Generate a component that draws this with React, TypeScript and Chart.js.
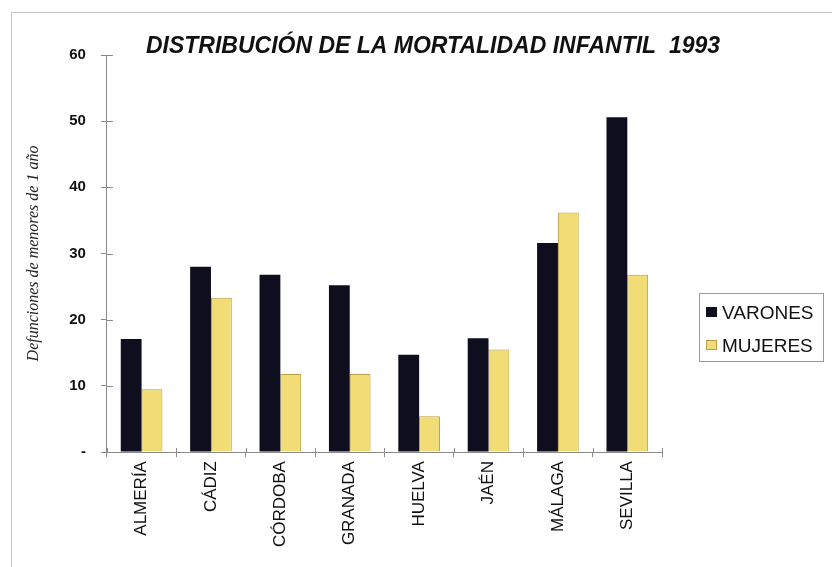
import React, { useEffect, useRef } from 'react';
import { Chart, registerables } from 'chart.js';
Chart.register(...registerables);

const categories = ['ALMERÍA', 'CÁDIZ', 'CÓRDOBA', 'GRANADA', 'HUELVA', 'JAÉN', 'MÁLAGA', 'SEVILLA'];
const varones = [17.1, 28.0, 26.8, 25.2, 14.7, 17.2, 31.6, 50.6];
const mujeres = [9.5, 23.3, 11.8, 11.8, 5.4, 15.5, 36.2, 26.8];
const seriesLabels = ['VARONES', 'MUJERES'];
const chartTitle = 'DISTRIBUCIÓN DE LA MORTALIDAD INFANTIL  1993';
const yAxisTitle = 'Defunciones de menores de 1 año';
const yMin = 0;
const yMax = 60;
const yStep = 10;

const SANS = '"Liberation Sans", Arial, sans-serif';
const SERIF = '"Liberation Serif", "Times New Roman", serif';
const AXIS_COLOR = '#8a8a8a';

const titlePlugin = {
  id: 'customTitle',
  afterDraw(chart: any) {
    const ctx = chart.ctx;
    ctx.save();
    ctx.font = `italic bold 23px ${SANS}`;
    ctx.fillStyle = '#111';
    ctx.textAlign = 'center';
    ctx.textBaseline = 'alphabetic';
    ctx.fillText(chartTitle, 433, 53);
    ctx.restore();
  },
};

const innerTicksPlugin = {
  id: 'innerTicks',
  afterDraw(chart: any) {
    const ctx = chart.ctx;
    const { left, bottom } = chart.chartArea;
    const ys = chart.scales.y;
    const xs = chart.scales.x;
    ctx.save();
    ctx.strokeStyle = AXIS_COLOR;
    ctx.lineWidth = 1;
    ctx.beginPath();
    ys.ticks.forEach((t: any) => {
      const py = Math.round(ys.getPixelForValue(t.value)) + 0.5;
      ctx.moveTo(left, py);
      ctx.lineTo(left + 6, py);
    });
    for (let i = 0; i <= categories.length; i++) {
      const px = Math.round(xs.getPixelForValue(i - 0.5)) + 0.5;
      ctx.moveTo(px, bottom);
      ctx.lineTo(px, bottom - 4);
    }
    ctx.stroke();
    ctx.restore();
  },
};

const legendPlugin = {
  id: 'boxLegend',
  afterDraw(chart: any) {
    const ctx = chart.ctx;
    ctx.save();
    ctx.strokeStyle = '#9a9a9a';
    ctx.lineWidth = 1;
    ctx.strokeRect(699.5, 293.5, 124, 68);
    ctx.font = `19px ${SANS}`;
    ctx.textBaseline = 'alphabetic';
    ctx.textAlign = 'left';
    chart.data.datasets.forEach((ds: any, i: number) => {
      const cy = 312 + i * 33;
      ctx.fillStyle = ds.backgroundColor;
      ctx.fillRect(706, cy - 5, 11, 10);
      if (ds.borderWidth) {
        ctx.strokeStyle = ds.borderColor;
        ctx.strokeRect(706.5, cy - 4.5, 10, 9);
      }
      ctx.fillStyle = '#111';
      ctx.fillText(ds.label, 722, cy + 7);
    });
    ctx.restore();
  },
};

export default function App() {
  const ref = useRef<HTMLCanvasElement>(null);
  useEffect(() => {
    if (!ref.current) return;
    const chart = new Chart(ref.current, {
      type: 'bar',
      data: {
        labels: categories,
        datasets: [
          {
            label: seriesLabels[0],
            data: varones,
            backgroundColor: '#0e0e1e',
            borderWidth: 0,
          },
          {
            label: seriesLabels[1],
            data: mujeres,
            backgroundColor: '#f1dc76',
            borderColor: '#b89e44',
            borderWidth: 1,
          },
        ],
      },
      options: {
        animation: false,
        responsive: false,
        maintainAspectRatio: false,
        layout: { padding: { left: 14, right: 170, top: 55, bottom: 16 } },
        plugins: {
          legend: { display: false },
          title: { display: false },
          tooltip: { enabled: false },
        },
        datasets: { bar: { categoryPercentage: 0.6, barPercentage: 1.0 } },
        scales: {
          x: {
            grid: { drawOnChartArea: false, drawTicks: true, tickLength: 5, color: AXIS_COLOR, offset: true },
            border: { color: AXIS_COLOR, width: 1 },
            ticks: {
              minRotation: 90,
              maxRotation: 90,
              padding: 4,
              color: '#111',
              font: { family: SANS, size: 17 },
              autoSkip: false,
            },
          },
          y: {
            min: yMin,
            max: yMax,
            grid: { drawOnChartArea: false, drawTicks: true, tickLength: 6, color: AXIS_COLOR },
            border: { color: AXIS_COLOR, width: 1 },
            ticks: {
              stepSize: yStep,
              padding: 15,
              color: '#111',
              font: { family: SANS, size: 15, weight: 'bold' },
              callback: (v: any) => (Number(v) === 0 ? '-' : String(v)),
            },
            title: {
              display: true,
              text: yAxisTitle,
              color: '#222',
              font: { family: SERIF, size: 16, style: 'italic' },
              padding: { top: 10, bottom: 11 },
            },
          },
        },
      },
      plugins: [titlePlugin, innerTicksPlugin, legendPlugin],
    } as any);
    return () => chart.destroy();
  }, []);

  return (
    <div style={{ position: 'fixed', left: 0, top: 0, width: 832, height: 567, background: '#fff' }}>
      <div
        style={{
          position: 'absolute',
          left: 11,
          top: 12,
          right: 0,
          bottom: 0,
          borderTop: '1px solid #c4c4c4',
          borderLeft: '1px solid #c4c4c4',
        }}
      />
      <canvas ref={ref} width={832} height={567} style={{ position: 'absolute', left: 0, top: 0, width: 832, height: 567 }} />
    </div>
  );
}
